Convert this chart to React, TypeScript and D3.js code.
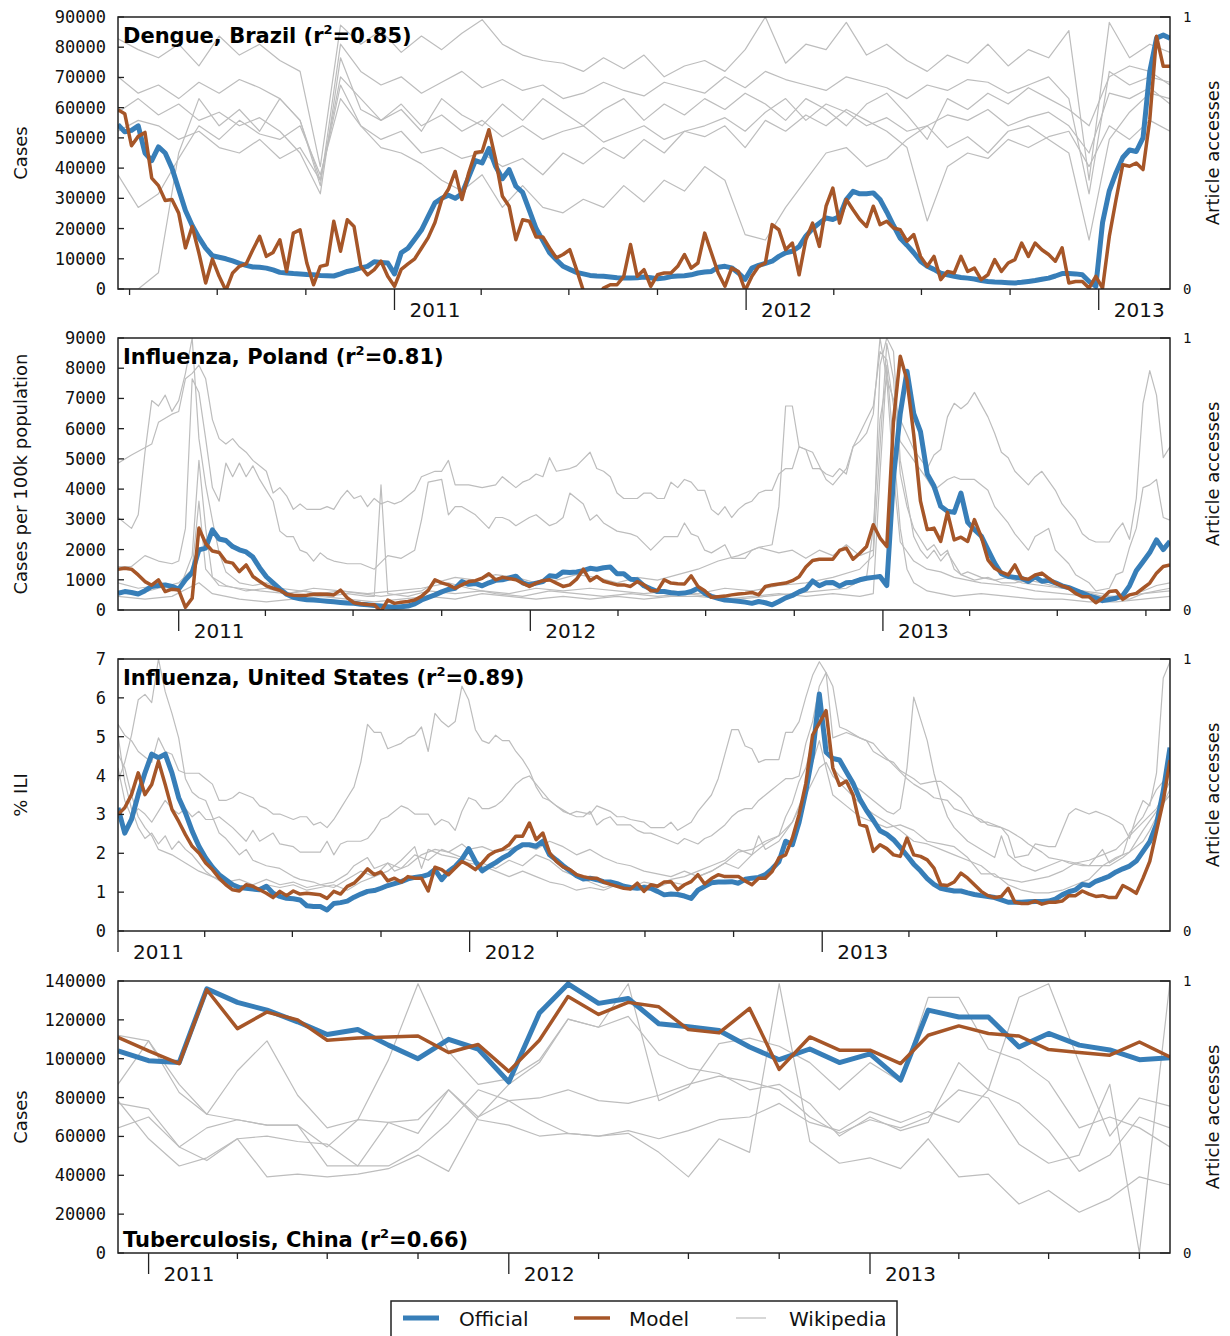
import React from "react";
import * as d3 from "d3";

// ---------------- DATA ----------------
// Dengue, Brazil (weekly, from 2010-03-20)
const dengueOfficial = [
  54400, 52000, 52500, 54000, 45000, 42500, 47000, 45000, 40000, 33000,
  26000, 21000, 17000, 13500, 11000, 10500, 10000, 9300, 8500, 7800,
  7300, 7200, 6900, 6300, 5500, 5300, 5100, 5000, 4800, 4700,
  4500, 4400, 4300, 5000, 5800, 6300, 7000, 7500, 9000, 8800,
  8600, 5000, 12000, 13500, 16500, 19500, 24000, 28500, 30000, 31000,
  30000, 31500, 37000, 42500, 41700, 46500, 40600, 36500, 39500, 34000,
  32000, 26000, 20000, 16000, 12000, 9700, 7500, 6500, 5500, 5000,
  4500, 4300, 4200, 4000, 3700, 3600, 3600, 3700, 4000, 3700,
  3400, 3600, 4100, 4300, 4400, 4700, 5300, 5600, 5800, 7200,
  7500, 7000, 5300, 3200, 6900, 7800, 8500, 9200, 10800, 12000,
  12500, 14000, 17500, 20000, 21800, 23500, 23000, 24000, 29600, 32300,
  31500, 31500, 31800, 29600, 25500, 21000, 16800, 14500, 12000, 9200,
  7500, 6500, 5200, 4700, 4200, 3800, 3600, 3300, 2800, 2500,
  2300, 2200, 2100, 2000, 2200, 2500, 2800, 3200, 3600, 4300,
  5100, 5100, 5000, 4700, 2500, 900, 22000, 32500, 38500, 43500,
  46000, 45500, 50000, 72000, 83000, 84000, 83000,
];
const dengueModel = [
  59300, 58000, 47400, 50500, 51800, 36700, 34200, 29300, 29600, 25100,
  13600, 20700, 11900, 2000, 9900, 4200, -500, 5300, 7500, 8300,
  13000, 17400, 10800, 12100, 16300, 5800, 18500, 19600, 8600, 1400,
  7500, 8000, 22400, 12500, 22900, 20700, 7500, 4700, 6400, 9200,
  4200, 900, 6500, 8300, 10000, 13500, 17000, 22000, 29500, 33000,
  38900, 29600, 38400, 45200, 45500, 52700, 42800, 30700, 27400, 16300,
  22900, 22400, 17200, 17200, 13600, 10300, 11400, 13000, 6400, -500,
  -4000, -3000, 300, 1400, 1400, 4200, 14700, 4200, 6400, 900,
  4700, 5300, 5300, 7500, 11400, 6900, 8600, 18500, 11900, 5300,
  900, 6900, 5800, -500, 4200, 7500, 8600, 21300, 19600, 13000,
  15200, 4700, 16300, 21800, 14100, 27400, 33400, 21800, 29600, 26200,
  23000, 20700, 27400, 21300, 22400, 20200, 19600, 15800, 18000, 10800,
  7500, 10800, 3100, 5800, 5300, 10800, 5800, 6900, 3100, 4700,
  9700, 5800, 8600, 9700, 15200, 10800, 15200, 13000, 11400, 9200,
  13600, 2000, 2500, 2500, 300, 4200, 300, 17400, 29600, 41100,
  40600, 41700, 39500, 56000, 83600, 73700, 73700,
];
const dengueWikiA = [.92,.88,.85,.9,.82,.93,.86,.9,.84,.8,.45,.97,.9,.95,.87,.93,.88,.94,.99,.9,.86,.84,.83,.8,.85,.81,.86,.78,.82,.84,.8,.88,1.0,.83,.9,.88,.98,.86,.9,.84,.8,.86,.83,.9,.82,.88,.85,.95,.4,.98,.85,.9,.87];
const dengueWikiB = [.78,.72,.75,.7,.76,.72,.77,.74,.7,.62,.38,.9,.8,.75,.78,.72,.76,.8,.74,.77,.73,.75,.7,.72,.76,.73,.71,.76,.74,.72,.78,.74,.8,.77,.75,.73,.78,.76,.74,.7,.75,.73,.77,.76,.72,.75,.78,.7,.35,.8,.75,.78,.76];
const dengueWikiC = [.65,.7,.64,.68,.62,.65,.6,.63,.58,.5,.35,.85,.66,.62,.68,.6,.64,.58,.62,.56,.6,.55,.58,.6,.54,.57,.6,.55,.58,.6,.63,.58,.65,.7,.62,.68,.65,.6,.63,.58,.6,.64,.62,.66,.6,.63,.65,.6,.5,.72,.7,.74,.68];
const dengueWikiD = [.58,.62,.6,.55,.58,.52,.5,.55,.48,.52,.4,.75,.6,.55,.58,.5,.52,.48,.5,.45,.48,.42,.5,.46,.52,.48,.55,.5,.58,.56,.6,.52,.62,.58,.64,.6,.66,.62,.58,.52,.25,.45,.5,.48,.55,.52,.56,.58,.45,.6,.55,.62,.58];
const dengueWikiE = [.42,.3,.35,.48,.6,.55,.62,.57,.55,.6,.42,.7,.6,.52,.5,.46,.4,.36,.42,.3,.38,.3,.28,.33,.3,.38,.32,.4,.36,.45,.4,.2,.18,.3,.4,.5,.52,.45,.48,.55,.6,.52,.56,.5,.58,.6,.55,.5,.18,.55,.65,.72,.7];
const dengueWikiF = [0,0,.06,.5,.7,.6,.66,.58,.7,.62,.4,.78,.7,.62,.66,.58,.7,.64,.6,.68,.62,.7,.65,.6,.66,.7,.62,.68,.64,.7,.66,.72,.68,.62,.7,.66,.6,.68,.72,.64,.55,.7,.66,.72,.68,.74,.7,.66,.6,.78,.82,.8,.75];
const dengueWikiWeeks = d3.range(0, 157, 3);

// Influenza, Poland (weekly, from 2010-10-30)
const polandOfficial = [
  550, 610, 580, 530, 640, 780, 810, 830, 780, 690,
  1000, 1240, 1990, 2050, 2650, 2350, 2300, 2100, 1990, 1920,
  1750, 1400, 1100, 900, 700, 520, 420, 370, 340, 330,
  310, 290, 270, 250, 230, 220, 190, 170, 150, 130,
  110, 90, 110, 130, 200, 330, 420, 500, 600, 680,
  720, 940, 850, 880, 800, 900, 980, 1000, 1060, 1120,
  900, 830, 890, 940, 1130, 1110, 1260, 1240, 1260, 1300,
  1380, 1350, 1400, 1420, 1200, 1200, 1020, 1000, 800, 700,
  610, 610, 570, 550, 560, 610, 720, 550, 450, 390,
  330, 310, 290, 260, 220, 280, 240, 170, 280, 400,
  480, 600, 690, 960, 800, 900, 910, 790, 900, 920,
  1000, 1050, 1080, 1110, 810, 4400, 6500, 7900, 6500, 5900,
  4500, 4100, 3430, 3270, 3230, 3870, 2900, 2660, 2450, 2000,
  1550, 1200, 1110, 1080, 1050, 940, 1100, 950, 980, 900,
  800, 740, 650, 560, 470, 400, 310, 350, 390, 480,
  800, 1300, 1600, 1900, 2320, 2000, 2270,
];
const polandModel = [
  1350, 1380, 1350, 1160, 940, 820, 1000, 610, 690, 660,
  90, 390, 2710, 2200, 1950, 1900, 1600, 1550, 1270, 1490,
  1110, 950, 800, 720, 650, 520, 490, 480, 490, 520,
  530, 520, 500, 660, 400, 240, 210, 180, 170, -50,
  330, 220, 260, 280, 330, 450, 650, 1000, 900, 830,
  720, 830, 940, 970, 1050, 1200, 1000, 1080, 1040, 1000,
  890, 780, 890, 970, 1000, 890, 780, 830, 1020, 1350,
  970, 1110, 950, 890, 830, 830, 780, 940, 830, 640,
  640, 1000, 890, 870, 860, 1130, 780, 640, 420, 440,
  460, 500, 530, 550, 580, 500, 780, 830, 860, 890,
  970, 1100, 1420, 1640, 1680, 1680, 1680, 1970, 2050, 1680,
  1880, 2100, 2820, 2380, 2100, 6250, 8400, 7600, 5800, 3600,
  2660, 2710, 2270, 3230, 2320, 2410, 2270, 2990, 2430, 1660,
  1380, 1250, 1160, 1490, 1050, 1020, 1160, 1220, 1050, 890,
  800, 720, 550, 440, 440, 240, 390, 610, 640, 350,
  500, 550, 720, 890, 1220, 1440, 1490,
];
// [week, share of max accesses]
const polandWikiA = [[0,.54],[2,.57],[5,.61],[6,.69],[8,.72],[9,.73],[10,.85],[11,.87],[12,.9],[13,.85],[14,.7],[15,.63],[16,.61],[17,.63],[18,.6],[19,.58],[20,.55],[22,.51],[23,.43],[24,.45],[25,.42],[26,.37],[27,.39],[28,.37],[30,.37],[31,.38],[32,.37],[33,.41],[34,.44],[35,.41],[36,.42],[37,.38],[38,.41],[39,.39],[40,.4],[41,.39],[42,.4],[43,.42],[44,.44],[45,.49],[47,.51],[48,.51],[49,.55],[50,.46],[52,.46],[54,.45],[56,.46],[57,.49],[59,.45],[60,.47],[61,.48],[62,.5],[63,.49],[64,.56],[65,.51],[67,.52],[68,.53],[70,.58],[71,.52],[72,.51],[73,.49],[74,.43],[75,.41],[77,.41],[78,.43],[79,.43],[80,.41],[81,.41],[82,.47],[83,.45],[84,.48],[85,.47],[86,.44],[87,.44],[88,.37],[89,.35],[90,.38],[91,.34],[92,.37],[93,.39],[94,.4],[95,.43],[96,.44],[97,.44],[98,.5],[99,.52],[100,.52],[101,.6],[103,.58],[105,.48],[106,.46],[107,.49],[108,.52],[109,.6],[110,.62],[111,.65],[112,.72],[113,1.0],[114,.85],[116,.7],[118,.59],[120,.52],[121,.57],[122,.59],[123,.71],[124,.76],[125,.74],[126,.76],[127,.8],[129,.71],[130,.65],[131,.58],[132,.56],[133,.51],[135,.46],[136,.49],[137,.51],[139,.44],[140,.39],[142,.33],[143,.28],[144,.26],[145,.25],[147,.25],[148,.29],[149,.32],[150,.26],[151,.41],[152,.76],[153,.88],[154,.79],[155,.56],[156,.6]];
const polandWikiB = [[0,.34],[2,.3],[3,.35],[4,.58],[5,.77],[6,.75],[7,.79],[8,.73],[9,.77],[10,.87],[11,1.0],[12,.63],[13,.46],[14,.33],[15,.21],[16,.14],[17,.12],[18,.1],[20,.09],[22,.1],[24,.08],[27,.07],[30,.06],[33,.07],[36,.06],[39,.05],[42,.06],[45,.07],[47,.1],[50,.12],[53,.11],[56,.13],[59,.12],[62,.1],[65,.11],[68,.13],[71,.12],[74,.1],[77,.12],[80,.11],[83,.13],[86,.15],[89,.18],[92,.2],[95,.23],[98,.21],[100,.22],[102,.19],[104,.22],[106,.2],[108,.24],[110,.2],[112,.22],[113,.9],[114,1.0],[115,.95],[116,.55],[117,.41],[118,.27],[119,.22],[120,.19],[121,.22],[122,.18],[123,.21],[125,.13],[127,.11],[129,.12],[131,.1],[133,.1],[135,.11],[137,.1],[140,.08],[143,.07],[146,.06],[148,.04],[150,.04],[152,.06],[154,.07],[156,.08]];
const polandWikiC = [[0,.16],[2,.16],[4,.2],[6,.18],[8,.17],[9,.18],[10,.3],[11,.85],[12,.8],[13,.63],[14,.45],[15,.4],[16,.54],[17,.49],[18,.54],[19,.49],[20,.53],[21,.48],[22,.44],[23,.4],[24,.29],[25,.27],[26,.27],[27,.22],[28,.21],[29,.18],[30,.21],[31,.19],[32,.18],[34,.17],[36,.17],[38,.15],[40,.2],[42,.19],[44,.22],[45,.33],[46,.47],[48,.48],[49,.35],[50,.38],[51,.38],[53,.35],[55,.3],[56,.34],[57,.34],[58,.33],[59,.31],[61,.34],[62,.35],[63,.33],[64,.31],[65,.32],[66,.34],[67,.43],[69,.39],[70,.33],[71,.35],[72,.32],[74,.29],[76,.28],[77,.27],[79,.22],[81,.27],[83,.27],[84,.32],[85,.28],[86,.27],[87,.22],[88,.21],[90,.24],[91,.19],[93,.19],[94,.22],[95,.23],[97,.24],[98,.38],[99,.75],[100,.75],[101,.6],[102,.59],[103,.52],[104,.52],[105,.5],[106,.49],[107,.52],[108,.5],[109,.6],[110,.65],[111,.7],[112,.75],[113,.95],[114,.92],[115,.75],[116,.62],[118,.55],[120,.48],[121,.44],[123,.48],[124,.49],[125,.48],[127,.48],[129,.44],[130,.38],[132,.32],[133,.28],[135,.22],[136,.27],[138,.3],[139,.22],[141,.17],[142,.13],[144,.1],[145,.07],[147,.08],[148,.13],[149,.14],[150,.23],[151,.3],[152,.45],[153,.46],[154,.48],[155,.34],[156,.33]];
const polandWikiD = [[0,.1],[3,.08],[6,.09],[9,.07],[11,.2],[12,.55],[13,.3],[14,.12],[16,.09],[19,.07],[22,.08],[25,.06],[28,.07],[31,.05],[34,.06],[37,.05],[38,.05],[39,.46],[40,.06],[43,.05],[46,.07],[50,.06],[54,.07],[58,.06],[62,.08],[66,.07],[70,.08],[74,.07],[78,.06],[82,.07],[86,.06],[90,.08],[94,.07],[98,.09],[102,.1],[106,.12],[110,.15],[112,.2],[113,.6],[114,.98],[115,.85],[116,.5],[117,.38],[118,.3],[119,.26],[120,.22],[121,.24],[122,.2],[123,.22],[124,.15],[125,.13],[126,.14],[128,.12],[130,.11],[132,.12],[134,.1],[137,.09],[140,.08],[143,.07],[146,.05],[149,.05],[152,.07],[154,.09],[156,.1]];
const polandWikiE = [[0,.05],[4,.04],[8,.05],[12,.1],[14,.06],[18,.04],[22,.03],[26,.04],[30,.05],[34,.04],[38,.03],[42,.04],[46,.05],[50,.04],[54,.06],[58,.05],[62,.04],[66,.05],[70,.04],[74,.05],[78,.04],[82,.05],[86,.05],[90,.04],[94,.05],[98,.06],[102,.05],[106,.06],[110,.05],[112,.06],[113,.5],[114,.9],[115,.6],[116,.3],[117,.15],[118,.1],[120,.07],[124,.05],[128,.06],[132,.05],[136,.04],[140,.04],[144,.03],[148,.03],[152,.04],[156,.05]];
const polandWikiF = [[0,.07],[3,.06],[6,.08],[9,.1],[11,.15],[12,.4],[13,.15],[15,.09],[18,.08],[21,.07],[25,.06],[29,.08],[33,.07],[37,.06],[41,.07],[45,.08],[49,.1],[52,.08],[56,.06],[60,.05],[64,.07],[68,.06],[72,.05],[76,.06],[80,.05],[84,.06],[88,.05],[92,.04],[96,.05],[100,.06],[104,.07],[108,.08],[111,.12],[112,.3],[113,.7],[114,.85],[115,.5],[116,.25],[118,.18],[120,.15],[122,.14],[124,.12],[128,.1],[132,.09],[136,.07],[140,.06],[144,.05],[148,.05],[152,.06],[156,.07]];

// Influenza, United States (weekly, from 2011-01-01)
const usOfficial = [
  3.17, 2.52, 2.87, 3.51, 4.07, 4.55, 4.46, 4.55, 4.07, 3.43,
  3.04, 2.57, 2.18, 1.88, 1.64, 1.45, 1.32, 1.19, 1.12, 1.10,
  1.08, 1.06, 1.15, 0.97, 0.89, 0.84, 0.83, 0.80, 0.65, 0.63,
  0.63, 0.54, 0.71, 0.73, 0.77, 0.87, 0.95, 1.02, 1.04, 1.10,
  1.17, 1.22, 1.27, 1.34, 1.38, 1.40, 1.45, 1.58, 1.32, 1.53,
  1.66, 1.85, 2.12, 1.79, 1.55, 1.66, 1.76, 1.88, 1.97, 2.12,
  2.22, 2.22, 2.18, 2.31, 1.96, 1.83, 1.68, 1.55, 1.42, 1.34,
  1.36, 1.32, 1.27, 1.26, 1.22, 1.15, 1.12, 1.10, 1.12, 1.10,
  1.02, 0.93, 0.95, 0.94, 0.90, 0.84, 1.05, 1.15, 1.24, 1.26,
  1.26, 1.27, 1.23, 1.33, 1.36, 1.38, 1.45, 1.60, 1.78, 2.31,
  2.22, 2.80, 3.60, 4.55, 6.10, 4.60, 4.44, 4.40, 4.10, 3.80,
  3.40, 3.10, 2.85, 2.58, 2.49, 2.35, 2.15, 1.94, 1.72, 1.55,
  1.35, 1.20, 1.10, 1.06, 1.03, 1.03, 0.98, 0.94, 0.91, 0.89,
  0.86, 0.80, 0.74, 0.74, 0.74, 0.75, 0.76, 0.76, 0.77, 0.82,
  0.93, 1.01, 1.06, 1.20, 1.17, 1.28, 1.34, 1.41, 1.52, 1.60,
  1.67, 1.80, 2.05, 2.30, 2.75, 3.60, 4.72,
];
const usModel = [
  3.00, 3.17, 3.51, 4.07, 3.51, 3.77, 4.37, 3.77, 3.13, 2.82,
  2.48, 2.18, 2.01, 1.75, 1.58, 1.36, 1.19, 1.06, 1.03, 1.19,
  1.15, 1.06, 0.97, 0.86, 1.02, 0.91, 1.03, 0.95, 0.97, 0.95,
  0.93, 0.84, 1.02, 0.95, 1.15, 1.23, 1.40, 1.60, 1.45, 1.52,
  1.29, 1.36, 1.26, 1.40, 1.36, 1.36, 1.03, 1.64, 1.58, 1.45,
  1.62, 1.79, 1.70, 1.58, 1.75, 1.95, 2.05, 2.10, 2.22, 2.44,
  2.44, 2.78, 2.35, 2.52, 2.01, 1.79, 1.65, 1.58, 1.45, 1.40,
  1.36, 1.36, 1.26, 1.20, 1.15, 1.10, 1.08, 1.23, 1.02, 1.19,
  1.15, 1.26, 1.27, 1.06, 1.19, 1.27, 1.45, 1.21, 1.35, 1.45,
  1.40, 1.40, 1.40, 1.29, 1.19, 1.36, 1.36, 1.53, 1.88, 1.96,
  2.39, 3.00, 3.80, 5.04, 5.35, 5.67, 4.20, 3.75, 3.86, 3.50,
  2.74, 2.69, 2.05, 2.22, 2.12, 1.96, 1.92, 2.39, 1.96, 1.92,
  1.83, 1.62, 1.19, 1.17, 1.26, 1.49, 1.36, 1.19, 1.02, 0.91,
  0.86, 0.89, 1.10, 0.74, 0.71, 0.71, 0.77, 0.69, 0.74, 0.74,
  0.77, 0.91, 0.91, 1.03, 0.95, 0.89, 0.91, 0.86, 0.86, 1.17,
  1.08, 0.97, 1.36, 1.79, 2.57, 3.34, 4.40,
];
const usWikiA = [[0,.76],[1,.72],[2,.7],[3,.66],[4,.64],[5,.62],[6,.71],[7,.66],[8,.65],[9,.59],[10,.58],[11,.58],[12,.58],[13,.56],[14,.54],[15,.48],[16,.48],[17,.49],[18,.51],[19,.5],[20,.49],[21,.46],[22,.45],[23,.43],[24,.43],[25,.42],[26,.41],[27,.42],[28,.42],[29,.39],[30,.4],[31,.38],[32,.41],[33,.45],[34,.49],[35,.53],[36,.62],[37,.76],[38,.73],[39,.73],[40,.67],[41,.68],[42,.69],[43,.71],[44,.72],[45,.75],[46,.66],[47,.8],[48,.77],[49,.75],[50,.77],[51,.9],[52,.85],[53,.74],[54,.7],[55,.69],[56,.72],[57,.7],[58,.7],[59,.66],[60,.63],[61,.59],[62,.53],[63,.49],[64,.48],[65,.46],[67,.43],[68,.44],[70,.43],[71,.46],[73,.44],[74,.42],[75,.42],[76,.41],[78,.4],[79,.38],[81,.38],[82,.4],[83,.37],[85,.4],[86,.44],[88,.5],[89,.56],[90,.65],[91,.74],[92,.74],[93,.68],[94,.67],[95,.62],[96,.63],[97,.63],[98,.63],[99,.73],[100,.73],[101,.77],[102,.86],[103,.94],[104,.99],[105,.95],[106,.9],[107,.75],[108,.74],[110,.71],[111,.7],[112,.66],[114,.63],[115,.62],[116,.59],[118,.56],[119,.54],[121,.55],[122,.55],[124,.51],[125,.49],[127,.42],[128,.4],[129,.4],[131,.38],[132,.35],[133,.27],[135,.28],[136,.32],[138,.31],[139,.31],[141,.43],[142,.45],[144,.43],[145,.44],[146,.43],[147,.42],[149,.39],[150,.34],[151,.42],[152,.48],[153,.46],[154,.58],[155,.93],[156,.99]];
const usWikiB = [[0,.6],[1,.48],[2,.42],[3,.45],[4,.43],[5,.4],[6,.44],[7,.48],[8,.45],[9,.43],[10,.45],[11,.42],[12,.44],[13,.41],[14,.41],[15,.42],[17,.38],[19,.33],[20,.37],[21,.33],[23,.36],[24,.32],[26,.31],[27,.29],[29,.29],[30,.29],[31,.33],[32,.28],[33,.32],[34,.33],[36,.33],[37,.34],[38,.37],[39,.41],[40,.42],[42,.46],[43,.45],[44,.43],[46,.43],[47,.39],[48,.41],[49,.4],[50,.37],[51,.44],[52,.49],[53,.48],[54,.45],[55,.45],[56,.46],[57,.48],[58,.51],[59,.54],[60,.56],[61,.57],[62,.54],[63,.51],[64,.48],[65,.46],[66,.44],[67,.43],[68,.42],[69,.42],[70,.44],[71,.39],[72,.41],[73,.42],[74,.39],[76,.39],[77,.37],[78,.36],[79,.36],[80,.35],[81,.34],[82,.33],[83,.32],[84,.34],[85,.33],[86,.32],[87,.34],[88,.35],[90,.39],[91,.42],[92,.44],[93,.45],[94,.45],[95,.48],[96,.5],[97,.52],[98,.54],[99,.56],[100,.56],[101,.57],[102,.69],[103,.77],[104,.9],[105,.95],[106,.71],[108,.73],[110,.71],[112,.69],[113,.66],[115,.61],[117,.56],[118,.54],[120,.51],[121,.49],[123,.48],[124,.45],[126,.43],[128,.41],[129,.39],[131,.38],[132,.37],[134,.34],[135,.32],[137,.29],[138,.27],[140,.26],[141,.25],[143,.24],[144,.24],[146,.24],[147,.24],[149,.27],[150,.29],[152,.33],[153,.37],[154,.42],[155,.47],[156,.52]];
const usWikiC = [[0,.55],[1,.62],[2,.72],[3,.85],[4,.87],[5,.84],[6,1.0],[7,.88],[8,.8],[9,.71],[10,.56],[11,.51],[12,.49],[13,.48],[14,.42],[15,.36],[16,.34],[17,.31],[18,.28],[19,.3],[20,.26],[21,.25],[22,.24],[24,.23],[26,.2],[27,.19],[29,.18],[30,.17],[32,.18],[34,.21],[35,.24],[37,.27],[38,.23],[40,.25],[41,.22],[43,.24],[45,.28],[47,.3],[49,.29],[51,.32],[52,.3],[54,.31],[56,.29],[58,.3],[60,.32],[62,.3],[64,.33],[66,.31],[68,.28],[70,.3],[72,.27],[74,.25],[76,.24],[78,.22],[80,.21],[82,.2],[84,.22],[86,.2],[88,.22],[90,.25],[92,.29],[94,.3],[96,.33],[98,.35],[99,.42],[100,.47],[101,.55],[102,.6],[103,.7],[104,.8],[105,.72],[106,.6],[107,.57],[108,.55],[110,.52],[112,.48],[114,.44],[115,.43],[116,.45],[117,.6],[118,.86],[119,.78],[120,.7],[121,.58],[122,.49],[123,.42],[124,.38],[126,.33],[128,.3],[130,.27],[131,.35],[132,.28],[134,.24],[136,.22],[138,.24],[140,.26],[142,.25],[144,.24],[146,.3],[147,.25],[149,.28],[150,.36],[152,.42],[154,.52],[155,.55],[156,.6]];
const usWikiD = [[0,.72],[1,.55],[2,.45],[3,.38],[4,.34],[5,.36],[6,.32],[7,.35],[8,.3],[9,.33],[10,.3],[11,.28],[12,.25],[13,.22],[14,.2],[16,.18],[18,.19],[20,.17],[22,.19],[24,.17],[26,.18],[28,.16],[30,.17],[32,.16],[34,.19],[36,.22],[38,.2],[40,.25],[42,.23],[44,.28],[46,.26],[48,.3],[50,.28],[52,.26],[54,.25],[56,.23],[58,.26],[60,.24],[62,.28],[64,.26],[66,.22],[68,.2],[70,.18],[72,.16],[74,.17],[76,.15],[78,.17],[80,.16],[82,.18],[84,.17],[86,.2],[88,.22],[90,.25],[92,.23],[94,.28],[95,.35],[96,.3],[98,.33],[100,.4],[102,.52],[103,.62],[104,.7],[105,.6],[106,.5],[108,.46],[110,.42],[112,.4],[114,.38],[116,.39],[118,.37],[120,.33],[122,.32],[124,.31],[126,.27],[128,.21],[130,.21],[132,.17],[134,.15],[136,.14],[138,.14],[140,.15],[142,.17],[144,.19],[146,.24],[148,.27],[150,.29],[152,.37],[154,.44],[156,.5]];
const usWikiE = [[0,.65],[1,.6],[2,.5],[3,.42],[4,.38],[5,.35],[6,.3],[8,.28],[10,.25],[12,.22],[14,.2],[16,.17],[18,.16],[20,.15],[22,.17],[24,.16],[26,.17],[28,.15],[30,.16],[32,.17],[34,.15],[36,.18],[38,.2],[40,.22],[42,.26],[44,.31],[45,.23],[46,.3],[48,.28],[50,.27],[52,.25],[54,.24],[56,.22],[58,.2],[60,.22],[62,.2],[64,.18],[66,.17],[68,.15],[70,.16],[72,.15],[74,.17],[76,.16],[78,.18],[80,.17],[82,.19],[84,.2],[86,.22],[88,.24],[90,.26],[92,.3],[94,.28],[96,.32],[98,.35],[100,.4],[102,.5],[103,.55],[104,.6],[105,.62],[106,.57],[108,.52],[110,.47],[112,.43],[114,.4],[116,.37],[118,.33],[120,.32],[122,.3],[124,.28],[126,.26],[128,.24],[130,.2],[132,.19],[134,.18],[136,.19],[138,.2],[140,.22],[142,.25],[144,.26],[146,.28],[148,.3],[150,.35],[152,.4],[154,.45],[156,.55]];

// Tuberculosis, China (monthly, Dec 2010 - Nov 2013)
const chinaOfficial = [104000, 99000, 98000, 136000, 129000, 125000, 119000, 112500, 115000, 107000, 100000, 110000, 105000, 88000, 123500, 138500, 128500, 131000, 118000, 116500, 114500, 106000, 99500, 105000, 98000, 102500, 89000, 125000, 121500, 121500, 106000, 113000, 107000, 104500, 99500, 100500];
const chinaModel = [111000, 104000, 97500, 135500, 115500, 124000, 120000, 109500, 110700, 111200, 111700, 103200, 107300, 93500, 109500, 132000, 122800, 129000, 126700, 115000, 113300, 125900, 94500, 111200, 104400, 104400, 97500, 112100, 116900, 113000, 111700, 104700, 103200, 101800, 108600, 100900];
const chinaWikiA = [.62,.78,.62,.51,.67,.78,.58,.46,.49,.71,.99,.74,.62,.64,.71,.86,.83,.99,.56,.61,.77,.79,.76,.7,.6,.7,.63,.94,.94,.75,.71,.63,.46,.5,.46,.39];
const chinaWikiB = [.8,.78,.59,.51,.49,.47,.47,.39,.49,.48,.44,.6,.49,.47,.43,.44,.43,.44,.37,.28,.42,.37,.99,.41,.33,.35,.31,.42,.28,.29,.18,.23,.15,.2,.28,.25];
const chinaWikiC = [.55,.53,.39,.34,.42,.28,.29,.28,.29,.31,.36,.3,.5,.62,.7,.86,.83,.87,.73,.68,.66,.6,.62,.55,.43,.5,.45,.48,.7,.6,.55,.45,.3,.36,.5,.46];
const chinaWikiD = [.46,.5,.39,.46,.49,.47,.47,.32,.32,.48,.49,.6,.5,.56,.49,.44,.43,.45,.42,.45,.49,.5,.55,.48,.45,.52,.48,.52,.48,.6,.94,.99,.7,.43,.57,.54];
const chinaWikiE = [.56,.42,.32,.35,.42,.43,.41,.4,.32,.32,.38,.48,.6,.56,.57,.6,.56,.55,.58,.62,.65,.63,.6,.5,.44,.49,.46,.5,.6,.57,.4,.33,.36,.62,0,1.0];

// ---------------- LAYOUT ----------------
const W = 1230;
const H = 1336;
const LEFT = 118;
const RIGHT = 1170;
const PH = 272;
const BLUE = "#377eb8";
const BROWN = "#a65628";
const GRAY = "#bdbdbd";
const MONO = "'DejaVu Sans Mono', monospace";
const SANS = "'DejaVu Sans', sans-serif";

type Pt = [Date, number];

const weekly = (start: Date, vals: number[]): Pt[] =>
  vals.map((v, i) => [d3.timeDay.offset(start, 7 * i), v]);
const weeklyPairs = (start: Date, pairs: number[][]): Pt[] =>
  pairs.map(([w, v]) => [d3.timeDay.offset(start, 7 * w), v]);
const weeklyIdx = (start: Date, weeks: number[], vals: number[]): Pt[] =>
  vals.map((v, i) => [d3.timeDay.offset(start, 7 * weeks[i]), v]);
const monthly = (start: Date, vals: number[]): Pt[] =>
  vals.map((v, i) => [d3.timeMonth.offset(start, i), v]);

const dengueStart = new Date(2010, 2, 20);
const polandStart = new Date(2010, 9, 30);
const usStart = new Date(2011, 0, 1);
const chinaStart = new Date(2010, 11, 1);

type Cfg = {
  id: string;
  top: number;
  domain: [Date, Date];
  yMax: number;
  yStep: number;
  yLabel: string;
  title: string;
  r2: string;
  titleBottom?: boolean;
  official: Pt[];
  model: Pt[];
  wiki: Pt[][];
};

const panels: Cfg[] = [
  {
    id: "dengue",
    top: 17,
    domain: [dengueStart, d3.timeDay.offset(dengueStart, 1092)],
    yMax: 90000,
    yStep: 10000,
    yLabel: "Cases",
    title: "Dengue, Brazil",
    r2: "0.85",
    official: weekly(dengueStart, dengueOfficial),
    model: weekly(dengueStart, dengueModel),
    wiki: [dengueWikiA, dengueWikiB, dengueWikiC, dengueWikiD, dengueWikiE, dengueWikiF].map((a) =>
      weeklyIdx(dengueStart, dengueWikiWeeks, a)
    ),
  },
  {
    id: "poland",
    top: 338,
    domain: [polandStart, d3.timeDay.offset(polandStart, 1092)],
    yMax: 9000,
    yStep: 1000,
    yLabel: "Cases per 100k population",
    title: "Influenza, Poland",
    r2: "0.81",
    official: weekly(polandStart, polandOfficial),
    model: weekly(polandStart, polandModel),
    wiki: [polandWikiA, polandWikiB, polandWikiC, polandWikiD, polandWikiE, polandWikiF].map((a) =>
      weeklyPairs(polandStart, a)
    ),
  },
  {
    id: "us",
    top: 659,
    domain: [usStart, d3.timeDay.offset(usStart, 1092)],
    yMax: 7,
    yStep: 1,
    yLabel: "% ILI",
    title: "Influenza, United States",
    r2: "0.89",
    official: weekly(usStart, usOfficial),
    model: weekly(usStart, usModel),
    wiki: [usWikiA, usWikiB, usWikiC, usWikiD, usWikiE].map((a) => weeklyPairs(usStart, a)),
  },
  {
    id: "china",
    top: 981,
    domain: [chinaStart, d3.timeMonth.offset(chinaStart, 35)],
    yMax: 140000,
    yStep: 20000,
    yLabel: "Cases",
    title: "Tuberculosis, China",
    r2: "0.66",
    titleBottom: true,
    official: monthly(chinaStart, chinaOfficial),
    model: monthly(chinaStart, chinaModel),
    wiki: [chinaWikiA, chinaWikiB, chinaWikiC, chinaWikiD, chinaWikiE].map((a) => monthly(chinaStart, a)),
  },
];

function Panel({ cfg }: { cfg: Cfg }) {
  const top = cfg.top;
  const bottom = top + PH;
  const x = d3.scaleTime().domain(cfg.domain).range([LEFT, RIGHT]);
  const y = d3.scaleLinear().domain([0, cfg.yMax]).range([bottom, top]);
  const yr = d3.scaleLinear().domain([0, 1]).range([bottom, top]);
  const lineL = d3.line<Pt>().x((d) => x(d[0])).y((d) => y(d[1]));
  const lineR = d3.line<Pt>().x((d) => x(d[0])).y((d) => yr(d[1]));
  const yTicks = d3.range(0, cfg.yMax + cfg.yStep / 2, cfg.yStep);
  const end = new Date(+cfg.domain[1] + 1);
  const years = d3.timeYear.range(cfg.domain[0], end);
  const quarters = d3.timeMonth
    .every(3)!
    .range(cfg.domain[0], end)
    .filter((d) => d.getMonth() !== 0);
  const clipId = `clip-${cfg.id}`;
  const midY = (top + bottom) / 2;
  const titleY = cfg.titleBottom ? bottom - 6 : top + 26;
  return (
    <g>
      <defs>
        <clipPath id={clipId}>
          <rect x={LEFT} y={top} width={RIGHT - LEFT} height={PH} />
        </clipPath>
      </defs>
      <g clipPath={`url(#${clipId})`} fill="none" strokeLinejoin="round">
        {cfg.wiki.map((s, i) => (
          <path key={i} d={lineR(s) || ""} stroke={GRAY} strokeWidth={1.2} />
        ))}
        <path d={lineL(cfg.official) || ""} stroke={BLUE} strokeWidth={5} />
        <path d={lineL(cfg.model) || ""} stroke={BROWN} strokeWidth={3.5} />
      </g>
      <rect x={LEFT} y={top} width={RIGHT - LEFT} height={PH} fill="none" stroke="#222" strokeWidth={1.5} />
      {/* left axis */}
      {yTicks.map((t) => (
        <g key={t}>
          <line x1={LEFT} x2={LEFT + 6} y1={y(t)} y2={y(t)} stroke="#222" strokeWidth={1.3} />
          <text x={106} y={y(t)} textAnchor="end" dominantBaseline="central" fontFamily={MONO} fontSize={17} fill="#111">
            {t}
          </text>
        </g>
      ))}
      {/* right axis */}
      {[0, 1].map((t) => (
        <g key={t}>
          <line x1={RIGHT - 10} x2={RIGHT} y1={yr(t)} y2={yr(t)} stroke="#222" strokeWidth={1.3} />
          <text x={1183} y={yr(t)} dominantBaseline="central" fontFamily={MONO} fontSize={14} fill="#111">
            {t}
          </text>
        </g>
      ))}
      {/* bottom axis */}
      {quarters.map((d) => (
        <line key={+d} x1={x(d)} x2={x(d)} y1={bottom} y2={bottom + 6} stroke="#222" strokeWidth={1.3} />
      ))}
      {years.map((d) => (
        <g key={+d}>
          <line x1={x(d)} x2={x(d)} y1={bottom} y2={bottom + 21} stroke="#222" strokeWidth={1.3} />
          <text x={x(d) + 15} y={bottom + 28} fontFamily={SANS} fontSize={20} fill="#111">
            {d.getFullYear()}
          </text>
        </g>
      ))}
      {/* labels */}
      <text
        transform={`translate(20,${midY}) rotate(-90)`}
        textAnchor="middle"
        dominantBaseline="central"
        fontFamily={SANS}
        fontSize={18}
        fill="#111"
      >
        {cfg.yLabel}
      </text>
      <text
        transform={`translate(1212,${midY}) rotate(-90)`}
        textAnchor="middle"
        dominantBaseline="central"
        fontFamily={SANS}
        fontSize={18}
        fill="#111"
      >
        Article accesses
      </text>
      <text x={123} y={titleY} fontFamily={SANS} fontWeight="bold" fontSize={21} fill="#000">
        {cfg.title} (r
        <tspan dy={-9} fontSize={13}>
          2
        </tspan>
        <tspan dy={9}>={cfg.r2})</tspan>
      </text>
    </g>
  );
}

const legendItems = [
  { label: "Official", color: BLUE, width: 5, x: 403 },
  { label: "Model", color: BROWN, width: 3.5, x: 574 },
  { label: "Wikipedia", color: GRAY, width: 1.2, x: 736 },
];

export default function App() {
  return (
    <svg
      width={W}
      height={H}
      viewBox={`0 0 ${W} ${H}`}
      style={{ position: "absolute", left: 0, top: 0, background: "#fff" }}
    >
      <rect x={0} y={0} width={W} height={H} fill="#fff" />
      {panels.map((p) => (
        <Panel key={p.id} cfg={p} />
      ))}
      <g>
        <rect x={391} y={1301} width={506} height={45} fill="#fff" stroke="#222" strokeWidth={1.5} />
        {legendItems.map((it) => (
          <g key={it.label}>
            <line x1={it.x} x2={it.x + (it.label === "Wikipedia" ? 30 : 36)} y1={1318} y2={1318} stroke={it.color} strokeWidth={it.width} />
            <text x={it.x + (it.label === "Wikipedia" ? 53 : it.label === "Model" ? 55 : 56)} y={1326} fontFamily={SANS} fontSize={20} fill="#111">
              {it.label}
            </text>
          </g>
        ))}
      </g>
    </svg>
  );
}
